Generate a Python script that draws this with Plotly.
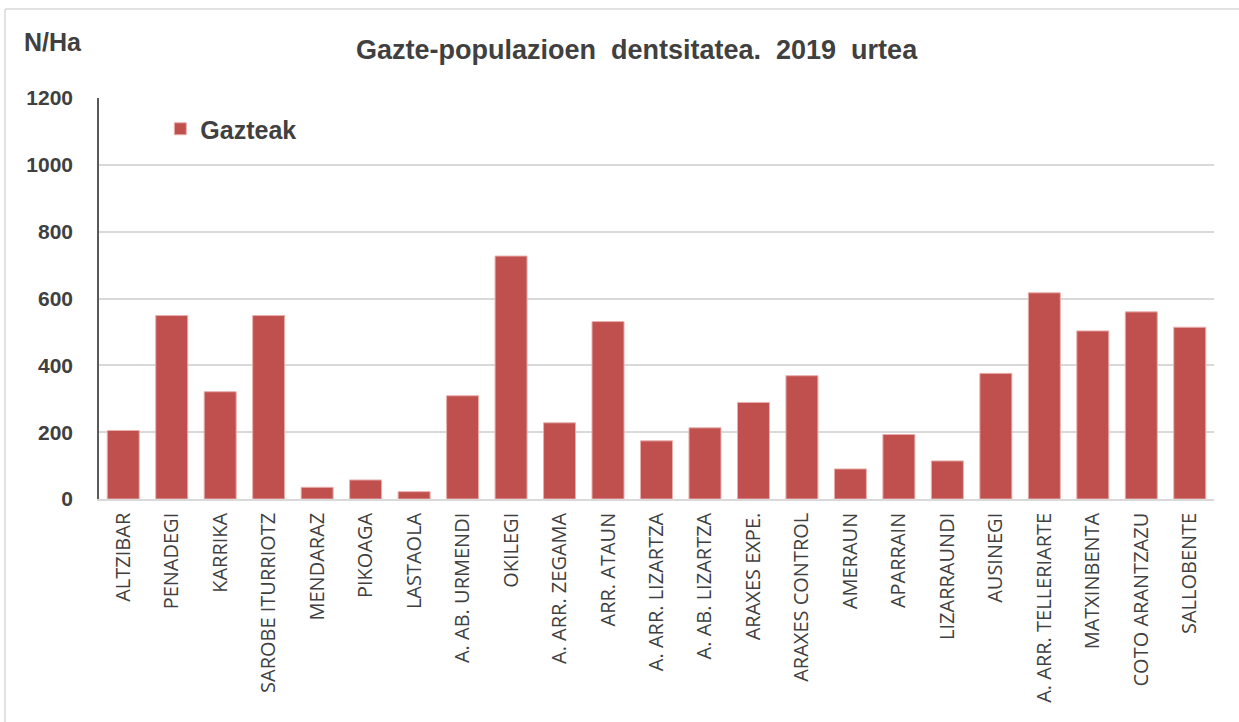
import plotly.graph_objects as go

# Lugar bakoitzeko gazte-dentsitatea (N/Ha), 2019
categories = [
    "ALTZIBAR", "PENADEGI", "KARRIKA", "SAROBE ITURRIOTZ", "MENDARAZ",
    "PIKOAGA", "LASTAOLA", "A. AB. URMENDI", "OKILEGI", "A. ARR. ZEGAMA",
    "ARR. ATAUN", "A. ARR. LIZARTZA", "A. AB. LIZARTZA", "ARAXES EXPE.",
    "ARAXES CONTROL", "AMERAUN", "APARRAIN", "LIZARRAUNDI", "AUSINEGI",
    "A. ARR. TELLERIARTE", "MATXINBENTA", "COTO ARANTZAZU", "SALLOBENTE",
]
gazteak = [
    205, 549, 321, 549, 35,
    57, 22, 309, 727, 228,
    531, 174, 213, 289,
    369, 90, 193, 114, 376,
    617, 503, 560, 514,
]
y_ticks = [0, 200, 400, 600, 800, 1000, 1200]

TEXT = "#404040"
BAR = "#C0504D"
GRID = "#D9D9D9"

fig = go.Figure()
fig.add_trace(
    go.Bar(
        x=categories,
        y=gazteak,
        name="<b>Gazteak</b>",
        marker=dict(color=BAR, line=dict(color="#E8AFAD", width=1)),
    )
)

fig.update_layout(
    width=1239,
    height=722,
    margin=dict(l=99, r=25, t=98, b=223),
    paper_bgcolor="white",
    plot_bgcolor="white",
    bargap=0.34,
    showlegend=True,
    legend=dict(
        x=0.055,
        y=0.98,
        xanchor="left",
        yanchor="top",
        bgcolor="rgba(0,0,0,0)",
        font=dict(family="Liberation Sans, Arial", size=25, color=TEXT),
        itemwidth=30,
    ),
    annotations=[
        dict(
            text="<b>Gazte-populazioen\u00a0 dentsitatea.\u00a0 2019\u00a0 urtea</b>",
            xref="paper", yref="paper",
            x=(636.5 - 99) / 1115, y=(499 - 50) / 401,
            xanchor="center", yanchor="middle",
            showarrow=False,
            font=dict(family="Liberation Sans, Arial", size=27, color=TEXT),
        ),
        dict(
            text="<b>N/Ha</b>",
            xref="paper", yref="paper",
            x=(53 - 99) / 1115, y=(499 - 42) / 401,
            xanchor="center", yanchor="middle",
            showarrow=False,
            font=dict(family="Liberation Sans, Arial", size=25, color=TEXT),
        ),
    ],
    shapes=[
        dict(type="line", xref="paper", yref="paper",
             x0=(5 - 99) / 1115, x1=(1239 - 99) / 1115,
             y0=(499 - 9) / 401, y1=(499 - 9) / 401,
             line=dict(color="#D9D9D9", width=1.5)),
        dict(type="line", xref="paper", yref="paper",
             x0=(5 - 99) / 1115, x1=(5 - 99) / 1115,
             y0=(499 - 9) / 401, y1=(499 - 722) / 401,
             line=dict(color="#D9D9D9", width=1.5)),
    ],
)

fig.update_xaxes(
    tickangle=-90,
    tickfont=dict(family="Open Sans", size=20, color=TEXT),
    showline=True,
    linecolor=GRID,
    linewidth=1.5,
    showgrid=False,
    ticks="",
    ticklabelstandoff=4,
)
fig.update_yaxes(
    range=[0, 1200],
    tickvals=y_ticks,
    ticktext=[f"<b>{v}</b>" for v in y_ticks],
    tickfont=dict(family="Liberation Sans, Arial", size=21, color=TEXT),
    showgrid=True,
    gridcolor=GRID,
    gridwidth=1.5,
    showline=True,
    linecolor="#595959",
    linewidth=1.5,
    zeroline=False,
    ticks="",
    ticklabelstandoff=20,
)

fig.write_html(
    "out.html",
    config={"displayModeBar": False},
    post_script="document.body.style.margin = '0';",
)
